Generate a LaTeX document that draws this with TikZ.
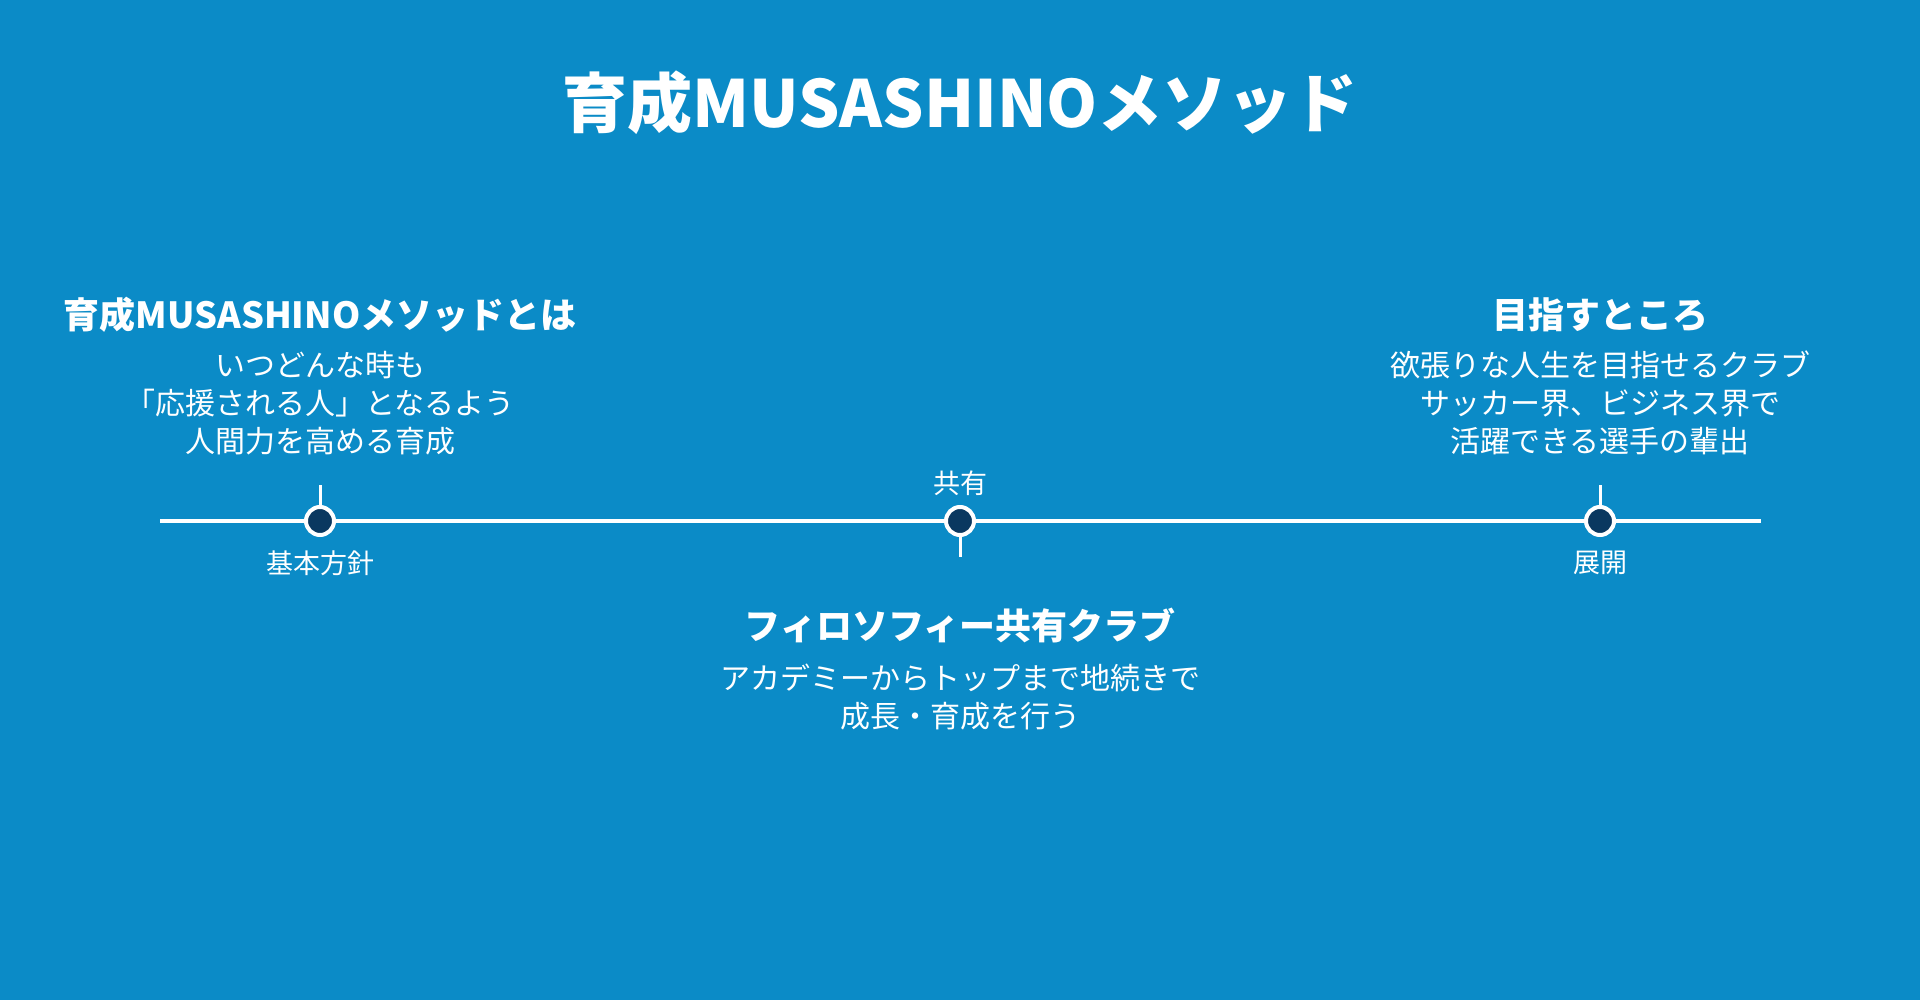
\documentclass[tikz,border=0pt]{standalone}
\usepackage{fontspec}
\setmainfont{Noto Sans CJK JP}
\definecolor{bg}{RGB}{11,139,199}
\definecolor{dotc}{RGB}{10,56,96}
\begin{document}
\begin{tikzpicture}[x=1pt,y=-1pt,
  txt/.style={text=white, inner sep=0pt, align=center},
  titletxt/.style={txt, font=\fontsize{65}{77}\selectfont\bfseries},
  headtxt/.style={txt, font=\fontsize{36}{43}\selectfont\bfseries},
  desctxt/.style={txt, font=\fontsize{30}{38}\selectfont},
  labtxt/.style={txt, font=\fontsize{27}{32}\selectfont},
  dotnode/.style={circle, draw=white, line width=4pt, fill=dotc, minimum size=28pt, inner sep=0pt},
  tline/.style={draw=white, line width=4pt},
  tickline/.style={draw=white, line width=3pt}]
\fill[bg] (0,0) rectangle (1920,1000);
\useasboundingbox (0,0) rectangle (1920,1000);
\coordinate (L) at (160,521);
\coordinate (R) at (1761,521);
\coordinate (c1) at (320,521);
\coordinate (c2) at (960,521);
\coordinate (c3) at (1600,521);
\coordinate (t1) at (320,485);
\coordinate (t2) at (960,557);
\coordinate (t3) at (1600,485);
\draw[tline] (L) -- (R);
\draw[tickline] (c1) -- (t1);
\draw[tickline] (c2) -- (t2);
\draw[tickline] (c3) -- (t3);
\node[dotnode] (d1) at (c1) {};
\node[dotnode] (d2) at (c2) {};
\node[dotnode] (d3) at (c3) {};
\node[titletxt] (title) at (960,103) {育成MUSASHINOメソッド};
\node[headtxt] (h1) at (320,315) {育成MUSASHINOメソッドとは};
\node[desctxt] (p1) at (320,403) {いつどんな時も\\「応援される人」となるよう\\人間力を高める育成};
\node[labtxt] (l1) at (320,563) {基本方針};
\node[labtxt] (l2) at (960,483) {共有};
\node[headtxt] (h2) at (960,625) {フィロソフィー共有クラブ};
\node[desctxt] (p2) at (960,697) {アカデミーからトップまで地続きで\\成長・育成を行う};
\node[labtxt] (l3) at (1600,563) {展開};
\node[headtxt] (h3) at (1600,315) {目指すところ};
\node[desctxt] (p3) at (1600,403) {欲張りな人生を目指せるクラブ\\サッカー界、ビジネス界で\\活躍できる選手の輩出};
\end{tikzpicture}
\end{document}
